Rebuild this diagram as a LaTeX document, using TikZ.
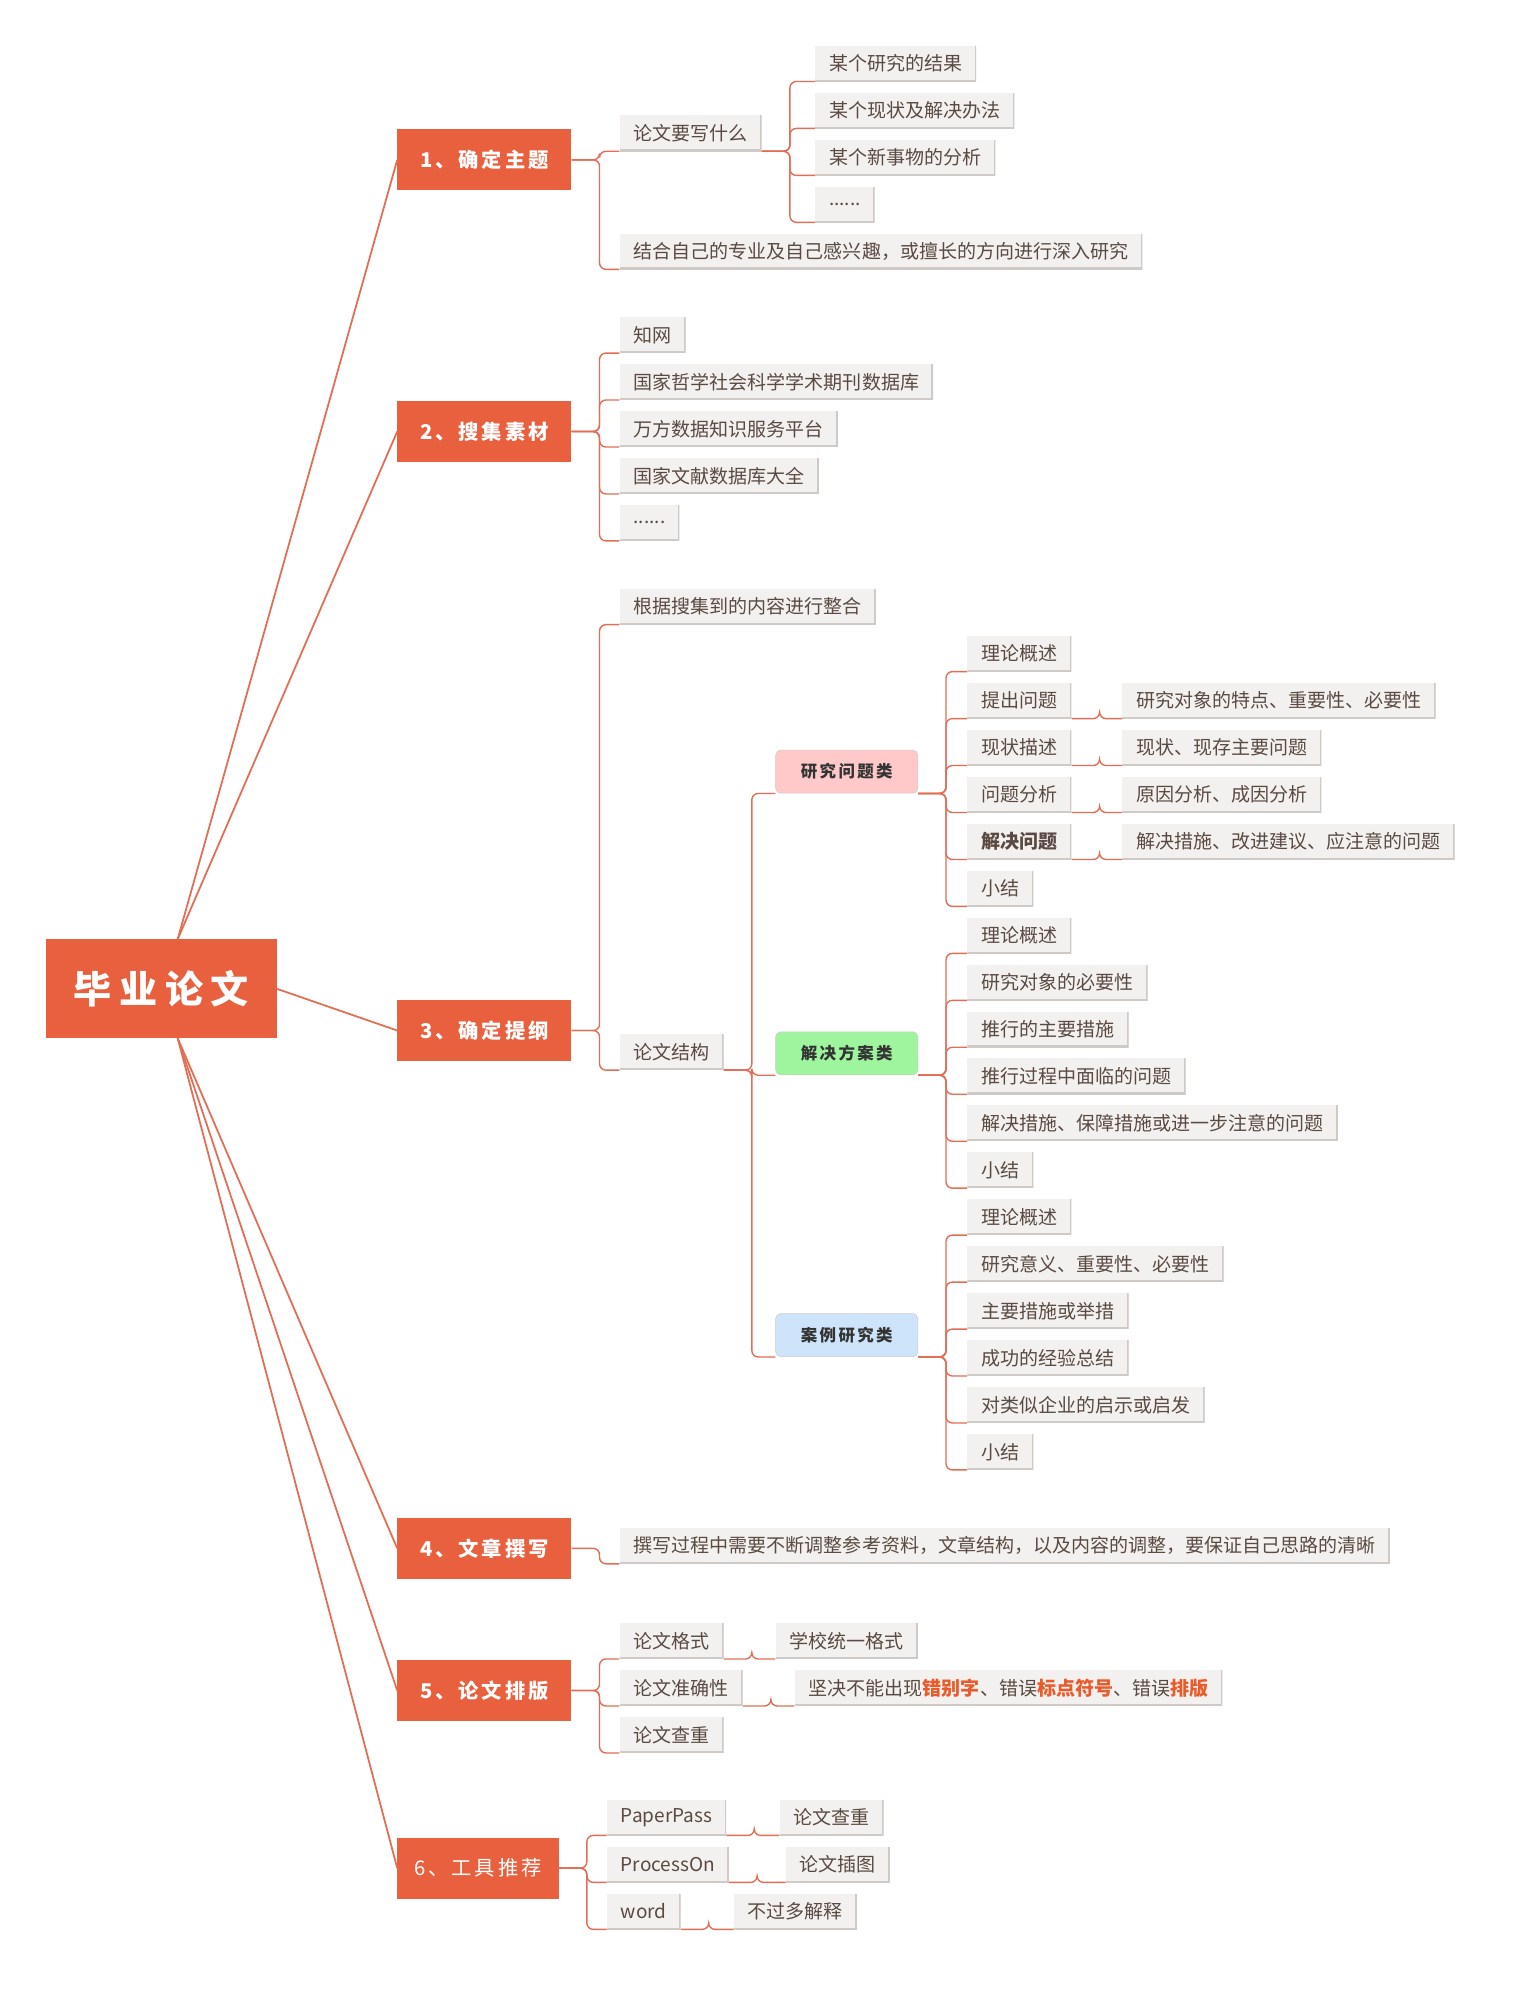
\documentclass[tikz,border=0pt]{standalone}
\usepackage{fontspec}
\setmainfont{Noto Sans CJK SC}
\newfontfamily\tf[LetterSpace=14]{Noto Sans CJK SC}
\newfontfamily\rf[LetterSpace=20]{Noto Sans CJK SC}
\definecolor{mred}{HTML}{E9603F}
\definecolor{conn}{HTML}{E26E55}
\definecolor{leafbg}{HTML}{F3F1EF}
\definecolor{leafln}{HTML}{CFCAC6}
\definecolor{leaftx}{HTML}{5A4A42}
\definecolor{hl}{HTML}{EB5A2A}
\definecolor{cpink}{HTML}{FFC9C9}
\definecolor{cgreen}{HTML}{9EF59E}
\definecolor{cblue}{HTML}{CDE4FA}
\tikzset{
 leaf/.style={anchor=west,fill=leafbg,text=leaftx,font=\fontsize{15}{18}\selectfont,inner xsep=11pt,inner ysep=0pt,minimum height=28pt,
  path picture={\draw[leafln,line width=2.5pt](path picture bounding box.south west)--(path picture bounding box.south east)--(path picture bounding box.north east);}},
 topic/.style={anchor=west,fill=mred,text=white,font=\fontsize{16}{18}\selectfont\tf\bfseries,minimum height=48pt,minimum width=137pt,inner xsep=8pt},
 cat/.style={anchor=west,rounded corners=4pt,draw=leafln,text=black!80,font=\fontsize{13}{16}\selectfont\tf\bfseries,minimum height=34pt,minimum width=112pt},
 cn/.style={draw=conn,line width=1.1pt,rounded corners=5pt},
}
\newcommand{\lf}[4]{\node[leaf] (#1) at (#2,#3) {#4};}
\newcommand{\cn}[2]{\draw[cn] (#1) -- ++(22,0) |- (#2.south west);}
\begin{document}
\begin{tikzpicture}[x=1pt,y=-1pt]
\useasboundingbox[fill=white] (0,0) rectangle (1200,1568);
\node[anchor=north west,fill=mred,text=white,minimum width=182pt,minimum height=78pt,font=\fontsize{30}{34}\selectfont\rf\bfseries] (root) at (36,740) {毕业论文};
\node[topic] (t1) at (313,126) {1、确定主题};
\node[topic] (t2) at (313,340) {2、搜集素材};
\node[topic] (t3) at (313,812) {3、确定提纲};
\node[topic] (t4) at (313,1220) {4、文章撰写};
\node[topic] (t5) at (313,1332) {5、论文排版};
\node[topic,minimum width=127pt,font=\fontsize{16}{18}\selectfont\tf] (t6) at (313,1472) {6、工具推荐};
\coordinate (rt) at (140,740); \coordinate (rb) at (140,818);
\foreach \t in {t1,t2} \draw[conn,line width=1.4pt] (rt) -- (\t.west);
\draw[conn,line width=1.4pt] (root.east) -- (t3.west);
\foreach \t in {t4,t5,t6} \draw[conn,line width=1.4pt] (rb) -- (\t.west);
% topic 1
\lf{a1}{488}{105}{论文要写什么}
\lf{a2}{488}{198}{结合自己的专业及自己感兴趣，或擅长的方向进行深入研究}
\cn{t1.east}{a1}\cn{t1.east}{a2}
\lf{a11}{642}{50}{某个研究的结果}
\lf{a12}{642}{87}{某个现状及解决办法}
\lf{a13}{642}{124}{某个新事物的分析}
\lf{a14}{642}{161}{......}
\foreach \c in {a11,a12,a13,a14}{\cn{a1.south east}{\c}}
% topic 2
\lf{b1}{488}{264}{知网}
\lf{b2}{488}{301}{国家哲学社会科学学术期刊数据库}
\lf{b3}{488}{338}{万方数据知识服务平台}
\lf{b4}{488}{375}{国家文献数据库大全}
\lf{b5}{488}{412}{......}
\foreach \c in {b1,b2,b3,b4,b5}{\cn{t2.east}{\c}}
% topic 3
\lf{c1}{488}{478}{根据搜集到的内容进行整合}
\lf{c2}{488}{829}{论文结构}
\cn{t3.east}{c1}\cn{t3.east}{c2}
\node[cat,fill=cpink] (k1) at (611,608) {研究问题类};
\node[cat,fill=cgreen] (k2) at (611,830) {解决方案类};
\node[cat,fill=cblue] (k3) at (611,1052) {案例研究类};
\foreach \c in {k1,k2,k3}{\draw[cn] (c2.south east) -- ++(22,0) |- (\c.south west);}
\lf{d1}{762}{515}{理论概述}
\lf{d2}{762}{552}{提出问题}
\lf{d3}{762}{589}{现状描述}
\lf{d4}{762}{626}{问题分析}
\lf{d5}{762}{663}{\bfseries 解决问题}
\lf{d6}{762}{700}{小结}
\foreach \c in {d1,d2,d3,d4,d5,d6}{\cn{k1.south east}{\c}}
\lf{e2}{884}{552}{研究对象的特点、重要性、必要性}
\lf{e3}{884}{589}{现状、现存主要问题}
\lf{e4}{884}{626}{原因分析、成因分析}
\lf{e5}{884}{663}{解决措施、改进建议、应注意的问题}
\foreach \i in {2,3,4,5}{\cn{d\i.south east}{e\i}}
\lf{f1}{762}{737}{理论概述}
\lf{f2}{762}{774}{研究对象的必要性}
\lf{f3}{762}{811}{推行的主要措施}
\lf{f4}{762}{848}{推行过程中面临的问题}
\lf{f5}{762}{885}{解决措施、保障措施或进一步注意的问题}
\lf{f6}{762}{922}{小结}
\foreach \c in {f1,f2,f3,f4,f5,f6}{\cn{k2.south east}{\c}}
\lf{g1}{762}{959}{理论概述}
\lf{g2}{762}{996}{研究意义、重要性、必要性}
\lf{g3}{762}{1033}{主要措施或举措}
\lf{g4}{762}{1070}{成功的经验总结}
\lf{g5}{762}{1107}{对类似企业的启示或启发}
\lf{g6}{762}{1144}{小结}
\foreach \c in {g1,g2,g3,g4,g5,g6}{\cn{k3.south east}{\c}}
% topic 4
\lf{h1}{488}{1218}{撰写过程中需要不断调整参考资料，文章结构，以及内容的调整，要保证自己思路的清晰}
\cn{t4.east}{h1}
% topic 5
\lf{i1}{488}{1293}{论文格式}
\lf{i2}{488}{1330}{论文准确性}
\lf{i3}{488}{1367}{论文查重}
\foreach \c in {i1,i2,i3}{\cn{t5.east}{\c}}
\lf{j1}{611}{1293}{学校统一格式}
\lf{j2}{626}{1330}{坚决不能出现{\bfseries\color{hl}错别字}、错误{\bfseries\color{hl}标点符号}、错误{\bfseries\color{hl}排版}}
\cn{i1.south east}{j1}\cn{i2.south east}{j2}
% topic 6
\lf{m1}{478}{1432}{PaperPass}
\lf{m2}{478}{1469}{ProcessOn}
\lf{m3}{478}{1506}{word}
\foreach \c in {m1,m2,m3}{\cn{t6.east}{\c}}
\lf{n1}{614}{1432}{论文查重}
\lf{n2}{619}{1469}{论文插图}
\lf{n3}{578}{1506}{不过多解释}
\foreach \i in {1,2,3}{\cn{m\i.south east}{n\i}}
\end{tikzpicture}
\end{document}
